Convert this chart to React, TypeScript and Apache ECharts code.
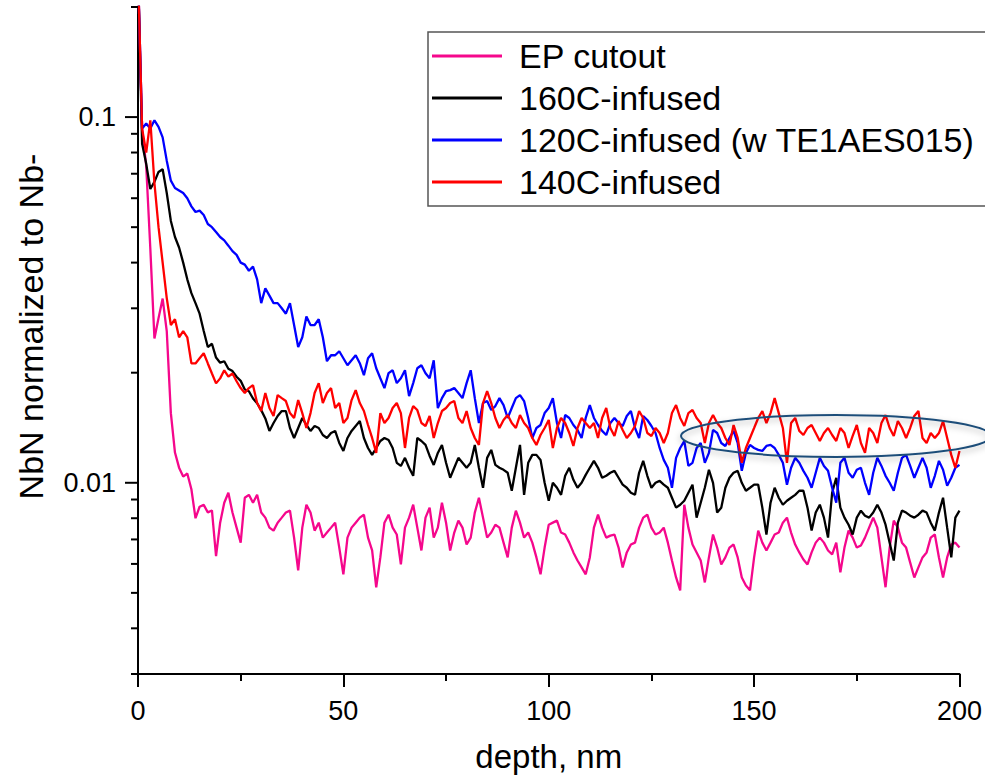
import React, { useEffect, useRef } from 'react';
import * as echarts from 'echarts';

// depth axis: one sample per nm, 0 … 200 nm
const DEPTH_NM: number[] = Array.from({ length: 201 }, (_, i) => i);

// NbN⁻ normalized to Nb⁻, values in units of 1e-3
const EP_CUTOUT = [
  250, 93, 73.5, 43.7, 24.8, 28.2, 31.9, 26, 15.5, 12.1,
  11.0, 10.4, 10.6, 9.6, 8.0, 8.6, 8.7, 8.3, 8.4, 6.3,
  7.78, 8.82, 9.39, 8.29, 7.54, 6.86, 9.10, 9.27, 8.82, 9.27,
  8.29, 8.03, 7.54, 7.40, 7.78, 8.03, 8.29, 8.39, 7.08, 5.76,
  7.54, 8.71, 8.29, 7.40, 7.78, 7.08, 7.31, 7.54, 7.78, 6.65,
  5.62, 7.08, 7.54, 7.78, 8.03, 8.18, 7.08, 6.53, 5.18, 6.25,
  7.78, 8.18, 7.54, 7.22, 5.98, 7.54, 8.03, 8.71, 7.54, 6.53,
  8.03, 8.55, 7.08, 7.54, 8.82, 7.78, 6.53, 7.31, 7.88, 7.54,
  6.78, 7.08, 8.29, 9.10, 8.03, 7.08, 7.31, 7.68, 7.54, 6.86,
  6.25, 7.54, 8.39, 7.78, 7.08, 7.31, 6.86, 6.25, 5.62, 6.65,
  7.68, 7.78, 7.88, 7.31, 7.22, 6.86, 6.45, 6.13, 5.87, 5.62,
  6.25, 7.54, 8.18, 7.54, 7.08, 7.17, 7.22, 6.65, 5.87, 6.45,
  6.78, 6.86, 7.54, 8.03, 8.18, 7.54, 7.22, 7.31, 7.54, 6.86,
  6.13, 5.51, 5.08, 8.71, 7.54, 6.78, 6.45, 6.13, 5.34, 6.25,
  7.22, 6.65, 5.98, 6.25, 6.65, 6.78, 6.25, 5.51, 5.24, 5.08,
  6.25, 7.40, 6.86, 6.53, 6.86, 7.22, 7.31, 7.78, 8.03, 7.31,
  6.78, 6.45, 6.17, 5.98, 6.45, 6.86, 7.08, 6.86, 6.53, 6.37,
  6.86, 5.69, 6.65, 7.40, 7.08, 6.65, 6.74, 7.08, 7.54, 8.03,
  7.54, 6.25, 5.18, 6.65, 7.88, 7.54, 6.86, 6.65, 6.05, 5.51,
  5.87, 6.25, 6.45, 7.08, 7.22, 6.25, 5.51, 6.25, 6.78, 6.86,
  6.65,
];

const INFUSED_160C = [
  250, 84.5, 74.5, 63.6, 66.5, 70.8, 72, 62, 52, 47,
  44, 40, 36, 33, 31, 29, 26, 23.5, 24, 22,
  21.3, 21.5, 20.5, 20.2, 19.5, 19.0, 18.0, 17.8, 17.0, 16.5,
  15.8, 15.0, 13.86, 14.57, 15.23, 15.71, 15.71, 14.12, 13.26, 14.12,
  15.04, 14.39, 13.86, 14.30, 14.12, 13.51, 13.26, 13.68, 13.86, 12.85,
  12.22, 13.26, 13.86, 14.30, 14.75, 13.26, 12.45, 11.92, 12.45, 13.01,
  13.26, 13.09, 12.45, 11.34, 11.12, 11.70, 10.99, 10.45, 13.26, 13.01,
  12.69, 11.84, 11.19, 12.07, 12.69, 11.34, 10.32, 10.99, 11.70, 11.34,
  10.99, 11.34, 12.69, 10.99, 9.69, 11.70, 12.30, 11.19, 10.99, 10.85,
  10.65, 9.51, 10.99, 12.69, 9.27, 11.34, 11.92, 11.92, 11.55, 10.00,
  8.93, 10.00, 9.69, 9.27, 10.45, 10.99, 10.19, 9.69, 10.00, 10.51,
  10.99, 11.48, 10.99, 10.32, 10.45, 10.65, 10.78, 10.32, 9.88, 9.69,
  9.39, 9.27, 10.65, 11.48, 10.45, 9.69, 10.00, 10.12, 9.88, 9.69,
  9.10, 8.55, 8.71, 8.93, 9.39, 9.88, 8.03, 8.82, 9.69, 10.85,
  10.00, 8.29, 8.55, 9.69, 10.32, 10.65, 10.78, 10.00, 9.51, 9.69,
  9.88, 9.88, 8.55, 7.22, 8.82, 9.69, 9.10, 8.71, 8.93, 9.10,
  9.27, 9.51, 9.51, 8.55, 7.40, 8.29, 8.71, 8.03, 7.08, 9.39,
  10.32, 8.55, 8.03, 7.68, 7.22, 8.03, 8.39, 8.13, 8.03, 8.29,
  8.71, 8.29, 7.68, 6.86, 6.13, 7.78, 8.39, 8.29, 8.13, 8.03,
  8.18, 8.39, 8.29, 7.78, 7.40, 8.29, 9.10, 7.54, 6.25, 8.03,
  8.39,
];

const INFUSED_120C = [
  250, 93, 96, 93, 98, 94, 88, 76, 67, 64,
  63, 62, 60, 57, 55, 55.5, 54, 51, 50, 48.5,
  47, 46, 44.5, 43, 42, 40, 39.5, 38, 39, 36,
  31, 34, 32.5, 31, 31, 30, 29, 31, 27, 23.5,
  25, 28.5, 27, 27, 28, 25, 21.5, 22.32, 22.32, 22.89,
  21.90, 20.96, 21.63, 22.32, 21.23, 19.69, 21.90, 22.60, 20.57, 19.32,
  18.15, 19.94, 20.31, 18.73, 19.32, 20.31, 17.26, 18.73, 20.57, 20.96,
  19.94, 19.32, 21.63, 16.01, 17.04, 17.81, 17.92, 18.15, 17.6, 17.04,
  18.73, 20.31, 17.04, 14.57, 16.52, 16.73, 15.81, 16.21, 17.04, 16.31,
  15.04, 16.01, 17.04, 17.37, 16.73, 15.04, 13.26, 14.12, 14.39, 15.51,
  16.01, 17.04, 14.57, 13.26, 15.32, 15.04, 14.39, 13.95, 13.26, 15.04,
  16.31, 15.04, 14.39, 13.86, 13.51, 14.57, 15.04, 14.57, 14.30, 15.23,
  15.71, 14.12, 13.26, 15.23, 14.85, 14.30, 13.68, 12.45, 11.55, 10.99,
  9.69, 11.70, 12.45, 13.01, 11.12, 11.34, 12.45, 12.85, 11.34, 12.07,
  13.95, 13.68, 12.85, 12.61, 13.26, 13.86, 12.85, 10.78, 12.07, 12.69,
  12.45, 12.30, 12.22, 12.61, 12.69, 12.45, 11.92, 11.34, 9.88, 10.99,
  11.70, 11.34, 10.78, 10.32, 9.69, 10.65, 11.70, 11.12, 10.78, 9.69,
  8.82, 11.34, 11.70, 10.65, 10.32, 10.85, 10.99, 10.00, 9.27, 10.65,
  11.70, 11.12, 10.45, 10.00, 9.51, 10.65, 11.70, 11.92, 11.12, 10.32,
  10.99, 11.70, 10.99, 9.69, 10.45, 11.48, 10.85, 9.81, 10.32, 10.99,
  11.19,
];

const INFUSED_140C = [
  250, 93, 80, 98, 66, 50, 40, 32, 27, 28,
  25, 26, 25, 21.2, 21.2, 21.9, 22.6, 21.2, 19.9, 18.7,
  19.3, 20.3, 19.5, 19.9, 18.95, 18.15, 17.6, 18.15, 18.49, 16.52,
  15.71, 17.6, 16.01, 15.23, 17.37, 17.04, 16.73, 15.51, 15.04, 16.83,
  15.51, 14.12, 15.51, 17.6, 18.73, 16.52, 17.6, 18.15, 16.01, 16.52,
  14.57, 15.04, 16.83, 17.92, 16.52, 15.71, 14.39, 13.26, 12.07, 15.51,
  14.57, 15.04, 16.01, 16.52, 15.51, 12.45, 15.04, 16.21, 15.81, 14.57,
  14.30, 15.23, 13.26, 14.57, 15.71, 16.01, 16.52, 16.73, 15.04, 14.57,
  15.71, 14.12, 13.26, 12.69, 16.52, 17.81, 16.52, 15.04, 14.12, 14.85,
  15.32, 14.57, 14.12, 15.32, 14.57, 14.12, 13.26, 12.69, 13.51, 14.12,
  14.85, 12.45, 14.12, 15.04, 14.57, 13.68, 12.61, 14.12, 15.04, 14.57,
  14.12, 14.57, 13.26, 15.04, 16.01, 14.12, 13.43, 14.75, 13.95, 13.26,
  13.68, 14.30, 15.71, 15.04, 13.68, 13.43, 14.12, 13.68, 12.85, 13.68,
  15.51, 16.31, 15.04, 14.30, 15.51, 15.81, 15.04, 14.57, 12.85, 14.57,
  15.32, 14.57, 14.12, 13.26, 12.69, 14.39, 13.26, 11.34, 12.45, 13.26,
  14.12, 15.04, 15.71, 14.57, 15.51, 17.04, 15.51, 14.12, 11.34, 14.57,
  15.04, 13.86, 13.51, 14.12, 14.39, 13.68, 13.01, 13.68, 14.12, 13.51,
  13.01, 14.12, 13.68, 12.45, 13.43, 14.39, 12.85, 12.07, 14.12, 13.68,
  12.85, 14.57, 15.32, 14.12, 13.43, 14.75, 14.12, 13.26, 14.12, 15.23,
  15.71, 13.26, 12.85, 13.68, 13.26, 13.68, 14.75, 13.26, 11.92, 10.99,
  12.22,
];

const SERIES_NAMES = ['EP cutout', '160C-infused', '120C-infused (w TE1AES015)', '140C-infused'];
const SERIES_VALUES = [EP_CUTOUT, INFUSED_160C, INFUSED_120C, INFUSED_140C];
const SERIES_COLORS = ['#F5078C', '#000000', '#0000FF', '#FF0000'];

const X_TICKS = [0, 50, 100, 150, 200];
const Y_LABELS = [0.01, 0.1];
const Y_MINOR_TICKS = [0.003, 0.004, 0.005, 0.006, 0.007, 0.008, 0.009,
  0.02, 0.03, 0.04, 0.05, 0.06, 0.07, 0.08, 0.09, 0.2];

const FONT = '"Liberation Sans", Arial, Helvetica, sans-serif';

export default function App() {
  const ref = useRef<HTMLDivElement>(null);

  useEffect(() => {
    if (!ref.current) return;
    const chart = echarts.init(ref.current, undefined, { renderer: 'svg' });

    const lineSeries = SERIES_NAMES.map((name, k) => ({
      name,
      type: 'line',
      data: DEPTH_NM.map((d, i) => [d, SERIES_VALUES[k][i] / 1000]),
      showSymbol: false,
      symbol: 'none',
      lineStyle: { color: SERIES_COLORS[k], width: 2.3 },
      itemStyle: { color: SERIES_COLORS[k] },
      emphasis: { disabled: true },
      silent: true,
      z: 2 + k,
    }));

    const tickData = [
      ...Y_LABELS.map((v) => [X_TICKS[0], v, 13]),
      ...Y_MINOR_TICKS.map((v) => [X_TICKS[0], v, 7]),
    ];

    chart.setOption({
      animation: false,
      backgroundColor: '#ffffff',
      textStyle: { fontFamily: FONT },
      grid: { left: 138, top: 7, width: 828, height: 668, containLabel: false },
      xAxis: {
        type: 'value',
        min: X_TICKS[0],
        max: X_TICKS[X_TICKS.length - 1],
        interval: 50,
        name: 'depth, nm',
        nameLocation: 'middle',
        nameGap: 66,
        nameTextStyle: { fontSize: 33, color: '#000', fontFamily: FONT },
        axisLine: { show: true, lineStyle: { color: '#000', width: 2 } },
        axisTick: { show: true, length: 13, lineStyle: { color: '#000', width: 2 } },
        minorTick: { show: true, splitNumber: 2, length: 7, lineStyle: { color: '#000', width: 2 } },
        axisLabel: { fontSize: 27, color: '#000', margin: 23, fontFamily: FONT },
        splitLine: { show: false },
      },
      yAxis: {
        type: 'log',
        logBase: 10,
        min: 0.003,
        max: 0.2,
        name: 'NbN normalized to Nb-',
        nameLocation: 'middle',
        nameRotate: 90,
        nameGap: 90,
        nameTextStyle: { fontSize: 34, color: '#000', fontFamily: FONT, padding: [0, 0, 0, 28] },
        axisLine: { show: true, lineStyle: { color: '#000', width: 2 } },
        axisTick: { show: false },
        axisLabel: {
          fontSize: 27,
          color: '#000',
          margin: 22,
          fontFamily: FONT,
          showMinLabel: false,
          showMaxLabel: false,
          formatter: (v: number) => {
            for (const t of Y_LABELS) if (Math.abs(v - t) < t * 1e-6) return String(t);
            return '';
          },
        },
        splitLine: { show: false },
      },
      legend: {
        orient: 'vertical',
        left: 428,
        top: 32,
        data: SERIES_NAMES,
        icon: 'rect',
        itemWidth: 70,
        itemHeight: 3,
        itemGap: 6,
        padding: [6, 10, 6, 4],
        borderColor: '#555',
        borderWidth: 1.5,
        backgroundColor: '#ffffff',
        selectedMode: false,
        textStyle: {
          fontSize: 34,
          color: '#000',
          fontFamily: FONT,
          lineHeight: 36,
          width: 480,
          overflow: 'none',
          padding: [0, 0, 0, 12],
        },
      },
      graphic: [
        {
          type: 'ellipse',
          z: 50,
          silent: true,
          shape: { cx: 836, cy: 436, rx: 155, ry: 21 },
          style: {
            fill: 'transparent',
            stroke: '#1F4E79',
            lineWidth: 2,
            shadowBlur: 6,
            shadowColor: 'rgba(0,0,0,0.3)',
            shadowOffsetY: 3,
          },
        },
      ],
      series: [
        ...lineSeries,
        {
          type: 'custom',
          name: 'y-ticks',
          coordinateSystem: 'cartesian2d',
          clip: false,
          silent: true,
          z: 10,
          data: tickData,
          renderItem: (_params: any, api: any) => {
            const p = api.coord([api.value(0), api.value(1)]);
            const len = api.value(2);
            return {
              type: 'line',
              shape: { x1: p[0] - len, y1: p[1], x2: p[0], y2: p[1] },
              style: { stroke: '#000', lineWidth: 2 },
            };
          },
        },
      ],
    });

    return () => chart.dispose();
  }, []);

  return (
    <div
      ref={ref}
      style={{ position: 'absolute', left: 0, top: 0, width: 985, height: 778 }}
    />
  );
}
